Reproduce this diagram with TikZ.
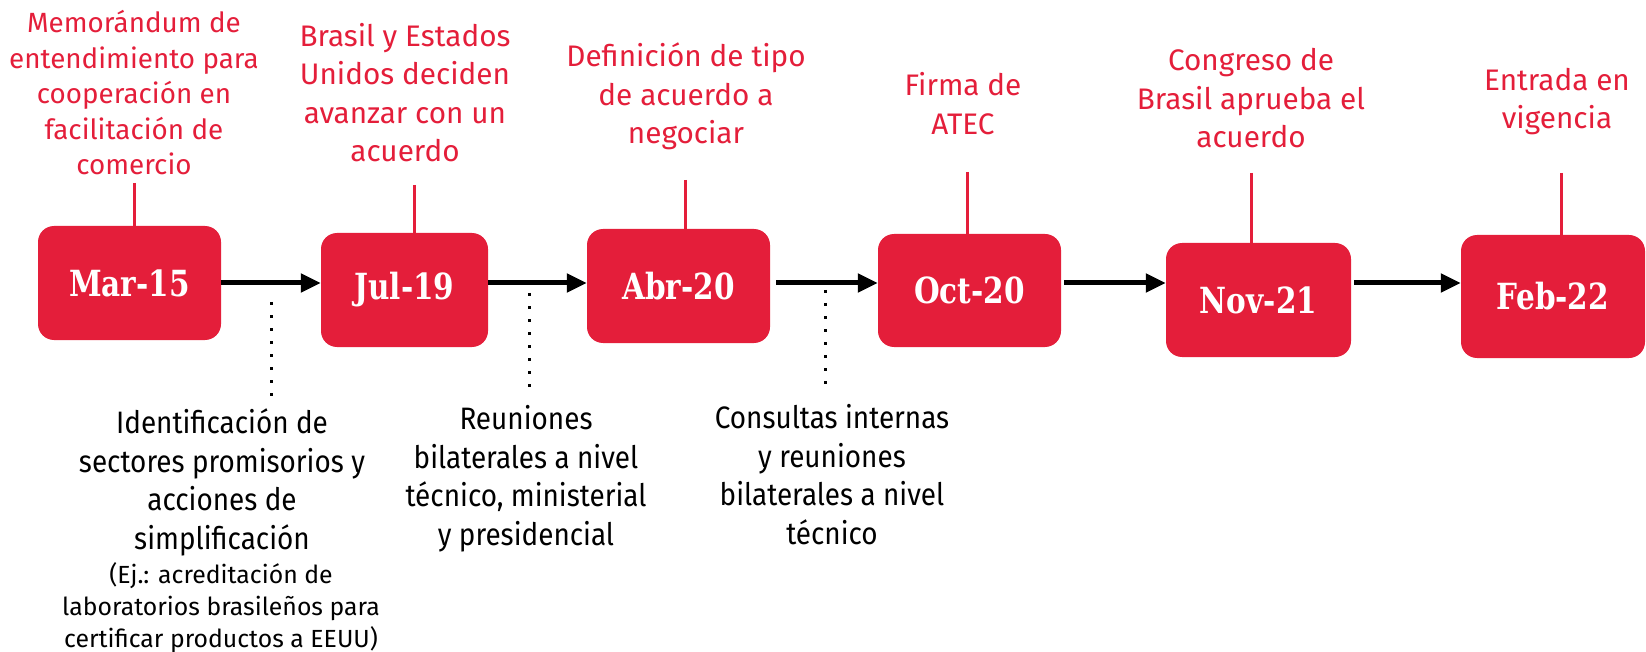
\documentclass[tikz,border=0pt]{standalone}
\usepackage{fontspec}
\setmainfont{Fira Sans}
\newfontfamily\redfont{Fira Sans}
\newfontfamily\blackfont[FakeStretch=0.9]{Fira Sans}
\newfontfamily\smallfont{Fira Sans}
\newfontfamily\boxfont[FakeStretch=0.82]{DejaVu Serif Bold}
\usetikzlibrary{arrows.meta}
\definecolor{rd}{RGB}{228,30,58}
\begin{document}
\begin{tikzpicture}[x=1pt,y=-1pt,
  datebox/.style={fill=rd, rounded corners=16pt, text=white, inner sep=0pt,
    font=\boxfont\fontsize{36}{40}\selectfont},
  evlabel/.style={text=rd, align=center, inner sep=0pt,
    font=\redfont\fontsize{29.7}{38.5}\selectfont},
  evlabelsmall/.style={text=rd, align=center, inner sep=0pt,
    font=\redfont\fontsize{27.8}{35.5}\selectfont},
  desc/.style={text=black, align=center, inner sep=0pt,
    font=\blackfont\fontsize{31}{38.5}\selectfont},
  descsmall/.style={text=black, align=center, inner sep=0pt,
    font=\smallfont\fontsize{24.8}{32}\selectfont},
  tick/.style={draw=rd, line width=3pt},
  arr/.style={draw=black, line width=5pt, -{Triangle[length=20pt,width=18pt]}},
  dots/.style={draw=black, line width=3pt, dash pattern=on 3pt off 10pt}]
\useasboundingbox (0,0) rectangle (1646,652);

% date boxes
\node[datebox, minimum width=183pt, minimum height=114pt] (m15) at (129.5,283) {Mar-15};
\node[datebox, minimum width=167pt, minimum height=114pt] (j19) at (404.5,290) {Jul-19};
\node[datebox, minimum width=183pt, minimum height=114pt] (a20) at (678.5,286) {Abr-20};
\node[datebox, minimum width=183pt, minimum height=113pt] (o20) at (969.5,290.5) {Oct-20};
\node[datebox, minimum width=185pt, minimum height=114pt] (n21) at (1258.5,300) {Nov-21};
\node[datebox, minimum width=184pt, minimum height=123pt] (f22) at (1553,296.5) {Feb-22};

% top labels
\node[evlabelsmall] (l1) at (134,93) {Memorándum de\\entendimiento para\\cooperación en\\facilitación de\\comercio};
\node[evlabel] (l2) at (405,92.5) {Brasil y Estados\\Unidos deciden\\avanzar con un\\acuerdo};
\node[evlabel] (l3) at (686,96.5) {Definición de tipo\\de acuerdo a\\negociar};
\node[evlabel] (l4) at (963,103.5) {Firma de\\ATEC};
\node[evlabel] (l5) at (1251,98.5) {Congreso de\\Brasil aprueba el\\acuerdo};
\node[evlabel] (l6) at (1557,101.5) {Entrada en\\vigencia};

% red ticks
\coordinate (t1) at (134,183);
\coordinate (t2) at (414,185);
\coordinate (t3) at (685,180);
\coordinate (t4) at (967,172);
\coordinate (t5) at (1251,173);
\coordinate (t6) at (1561,173);
\draw[tick] (t1) -- (t1 |- m15.north);
\draw[tick] (t2) -- (t2 |- j19.north);
\draw[tick] (t3) -- (t3 |- a20.north);
\draw[tick] (t4) -- (t4 |- o20.north);
\draw[tick] (t5) -- (t5 |- n21.north);
\draw[tick] (t6) -- (t6 |- f22.north);

% arrows
\coordinate (ay) at (0,283);
\draw[arr] (m15.east |- ay) -- (j19.west |- ay);
\draw[arr] (j19.east |- ay) -- (a20.west |- ay);
\draw[arr, shorten <=6pt] (a20.east |- ay) -- (o20.west |- ay);
\draw[arr, shorten <=3pt] (o20.east |- ay) -- (n21.west |- ay);
\draw[arr, shorten <=3pt] (n21.east |- ay) -- (f22.west |- ay);

% dotted leaders
\coordinate (d1a) at (271,302);
\coordinate (d1b) at (271,399);
\coordinate (d2a) at (529,293);
\coordinate (d2b) at (529,391);
\coordinate (d3a) at (825,290);
\coordinate (d3b) at (825,389);
\draw[dots] (d1a) -- (d1b);
\draw[dots] (d2a) -- (d2b);
\draw[dots] (d3a) -- (d3b);

% descriptions
\node[desc] (b1) at (222,482.5) {Identificación de\\sectores promisorios y\\acciones de\\simplificación};
\node[descsmall] (b1x) at (221,607.5) {(Ej.: acreditación de\\laboratorios brasileños para\\certificar productos a EEUU)};
\node[desc] (b2) at (526,478.5) {Reuniones\\bilaterales a nivel\\técnico, ministerial\\y presidencial};
\node[desc] (b3) at (832,474.5) {Consultas internas\\y reuniones\\bilaterales a nivel\\técnico};
\end{tikzpicture}
\end{document}
